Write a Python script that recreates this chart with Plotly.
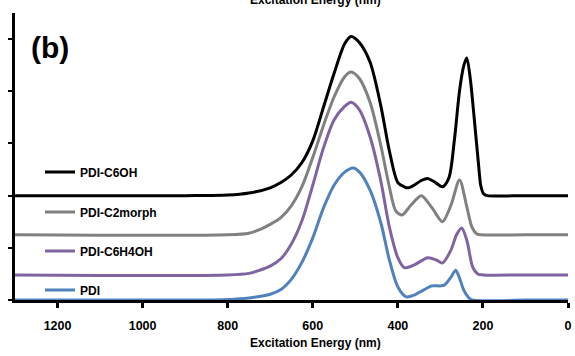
import plotly.graph_objects as go

# ---- data (normalized intensity vs wavelength, nm) ----
names = ["PDI-C6OH", "PDI-C2morph", "PDI-C6H4OH", "PDI"]
colors = ["#000000", "#808080", "#8064A2", "#4F81BD"]
offsets = [2.0, 1.25, 0.48, 0.0]

wl_c6oh = [1300, 900, 800, 750, 700, 675, 650, 625, 600, 575, 550, 525, 510, 490, 465, 440, 420,
           400, 385, 375, 360, 345, 330, 315, 295, 280, 267, 255, 245, 238, 230, 220, 210, 205,
           198, 190, 100, 0]
int_c6oh = [0, 0, 0.01, 0.05, 0.15, 0.25, 0.4, 0.64, 1.05, 1.69, 2.34, 2.91, 3.05, 2.93, 2.55, 1.72,
            0.86, 0.25, 0.17, 0.15, 0.21, 0.29, 0.33, 0.27, 0.17, 0.34, 1.07, 2.01, 2.49, 2.64, 2.26,
            1.44, 0.57, 0.19, 0.03, 0, 0, 0]

wl_c2morph = [1300, 800, 750, 725, 700, 675, 650, 625, 600, 575, 550, 525, 510, 490, 465, 440, 420,
              405, 390, 370, 345, 320, 295, 275, 255, 238, 226, 215, 205, 100, 0]
int_c2morph = [0, 0, 0.03, 0.1, 0.2, 0.33, 0.56, 0.93, 1.48, 2.09, 2.64, 3.03, 3.12, 2.99, 2.53,
               1.71, 0.92, 0.46, 0.38, 0.56, 0.75, 0.52, 0.25, 0.57, 1.05, 0.54, 0.15, 0.02, 0, 0, 0]

wl_c6h4oh = [1300, 800, 750, 725, 700, 675, 650, 625, 600, 575, 550, 525, 510, 490, 465, 440, 420,
             400, 385, 360, 330, 310, 295, 275, 262, 250, 238, 224, 212, 200, 100, 0]
int_c6h4oh = [0, 0, 0.03, 0.09, 0.17, 0.31, 0.6, 1.05, 1.72, 2.43, 2.97, 3.23, 3.31, 3.16, 2.64,
              1.8, 0.92, 0.33, 0.14, 0.2, 0.33, 0.29, 0.23, 0.48, 0.77, 0.9, 0.67, 0.15, 0.02, 0, 0, 0]

wl_pdi = [1300, 850, 800, 750, 700, 675, 650, 625, 600, 575, 550, 525, 505, 490, 465, 440, 420,
          400, 380, 360, 340, 320, 300, 290, 275, 264, 255, 245, 235, 226, 100, 0]
int_pdi = [0, 0, 0.01, 0.04, 0.11, 0.2, 0.4, 0.73, 1.19, 1.76, 2.2, 2.45, 2.53, 2.45, 2.1, 1.48,
           0.77, 0.25, 0.06, 0.1, 0.19, 0.27, 0.27, 0.29, 0.44, 0.57, 0.42, 0.19, 0.06, 0, 0, 0]

x_ticks = [0, 200, 400, 600, 800, 1000, 1200]
y_ticks = [0, 1, 2, 3, 4, 5]
x_title = "Excitation Energy (nm)"
panel_label = "(b)"

series = [(wl_c6oh, int_c6oh), (wl_c2morph, int_c2morph), (wl_c6h4oh, int_c6h4oh), (wl_pdi, int_pdi)]

FONT = "Liberation Sans"

fig = go.Figure()
legend_ids = ["legend", "legend2", "legend3", "legend4"]
for (wl, inten), name, col, off, lid in zip(series, names, colors, offsets, legend_ids):
    fig.add_trace(go.Scatter(
        x=wl, y=[v + off for v in inten], mode="lines", name=name,
        line=dict(color=col, width=3, shape="spline", smoothing=0.8),
        legend=lid, hoverinfo="skip"))

L, R, T, B = 15, 7, 13, 56
W, H = 575, 356
ph = H - T - B
pw = W - L - R

def py(ypx):
    return (H - B - ypx) / ph

def px(xpx):
    return (xpx - L) / pw

legend_y = [172, 212, 251, 290]
layout_legends = {}
for lid, yy in zip(legend_ids, legend_y):
    layout_legends[lid] = dict(
        x=px(40), y=py(yy), xanchor="left", yanchor="middle",
        bgcolor="rgba(0,0,0,0)", borderwidth=0,
        font=dict(family=FONT, size=12, color="#000000", weight="bold"),
        itemwidth=30)

fig.update_layout(
    width=W, height=H,
    margin=dict(l=L, r=R, t=T, b=B, autoexpand=False),
    paper_bgcolor="white", plot_bgcolor="white",
    showlegend=True,
    font=dict(family=FONT, size=12, color="#000000"),
    xaxis=dict(
        range=[1300, 0], tickvals=x_ticks, ticktext=[str(v) for v in x_ticks],
        showgrid=False, zeroline=False, showline=True, linecolor="#000000", linewidth=3,
        ticks="outside", ticklen=5, tickwidth=3, tickcolor="#000000",
        tickfont=dict(family=FONT, size=12.5, color="#000000", weight="bold"),
        ticklabelstandoff=7, layer="below traces"),
    yaxis=dict(
        range=[0, 5.5], tickvals=y_ticks, showticklabels=False,
        showgrid=False, zeroline=False, showline=True, linecolor="#000000", linewidth=3,
        ticks="outside", ticklen=4, tickwidth=2, tickcolor="#000000", layer="below traces"),
    **layout_legends,
)

fig.add_annotation(text=x_title, xref="paper", yref="paper", x=px(315), y=py(343),
                   xanchor="center", yanchor="middle", showarrow=False,
                   font=dict(family=FONT, size=12, color="#000000", weight="bold"))
fig.add_annotation(text=x_title, xref="paper", yref="paper", x=px(315), y=py(0),
                   xanchor="center", yanchor="middle", showarrow=False,
                   font=dict(family=FONT, size=12, color="#000000", weight="bold"))
fig.add_annotation(text=panel_label, xref="paper", yref="paper", x=px(29), y=py(47),
                   xanchor="left", yanchor="middle", showarrow=False,
                   font=dict(family=FONT, size=30, color="#000000", weight="bold"))

fig.write_html("out.html", config={"displayModeBar": False},
               post_script="document.body.style.margin='0';document.body.style.overflow='hidden';")
